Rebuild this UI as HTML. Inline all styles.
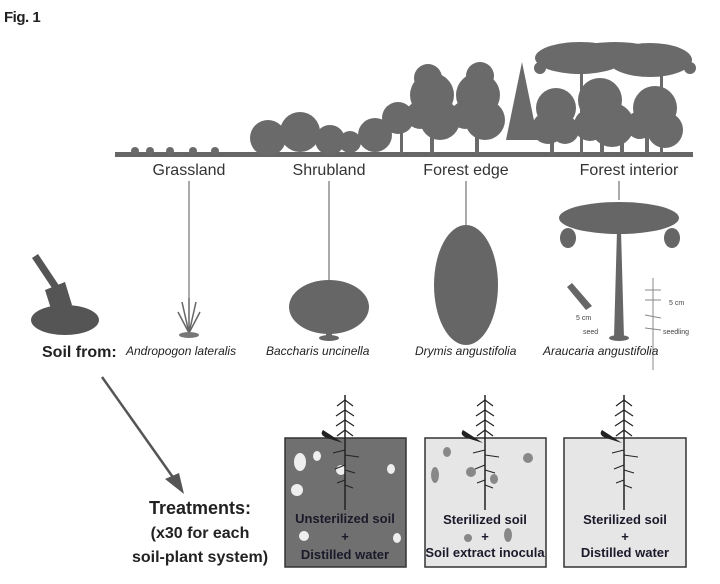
<!DOCTYPE html>
<html><head><meta charset="utf-8"><style>
html,body{margin:0;padding:0;background:#fff;}
svg{display:block}
</style></head><body>
<svg width="720" height="584" viewBox="0 0 720 584" xmlns="http://www.w3.org/2000/svg" font-family="Liberation Sans, sans-serif">
<text x="4" y="22" font-size="15" font-weight="bold" fill="#222" letter-spacing="-0.5">Fig. 1</text>
<!-- ground strip -->
<rect x="115" y="152" width="578" height="5" fill="#666"/>
<g fill="#6a6a6a">
<circle cx="135" cy="151" r="4"/><circle cx="150" cy="151" r="4"/><circle cx="170" cy="151" r="4"/><circle cx="193" cy="151" r="4"/><circle cx="215" cy="151" r="4"/>
<!-- shrubland -->
<circle cx="268" cy="138" r="18"/><circle cx="300" cy="132" r="20"/><circle cx="330" cy="140" r="15"/><circle cx="375" cy="135" r="17"/><circle cx="350" cy="142" r="11"/>
<!-- forest -->
<circle cx="398" cy="118" r="16"/><rect x="400" y="118" width="3" height="36"/>
<circle cx="432" cy="95" r="22"/><circle cx="428" cy="78" r="14"/><circle cx="440" cy="120" r="20"/><circle cx="420" cy="115" r="14"/>
<circle cx="478" cy="95" r="22"/><circle cx="480" cy="76" r="14"/><circle cx="485" cy="120" r="20"/><circle cx="465" cy="115" r="14"/>
<polygon points="522,62 506,140 538,140"/>
<circle cx="556" cy="108" r="20"/><circle cx="548" cy="128" r="16"/><circle cx="565" cy="130" r="14"/>
<circle cx="600" cy="100" r="22"/><circle cx="612" cy="125" r="22"/><circle cx="590" cy="125" r="16"/>
<circle cx="655" cy="108" r="22"/><circle cx="665" cy="130" r="18"/><circle cx="640" cy="125" r="14"/>
<ellipse cx="580" cy="58" rx="45" ry="16"/><ellipse cx="650" cy="60" rx="42" ry="17"/><ellipse cx="615" cy="52" rx="40" ry="10"/>
<circle cx="540" cy="68" r="6"/><circle cx="690" cy="68" r="6"/>
<rect x="580" y="60" width="3" height="95"/><rect x="660" y="60" width="3" height="95"/>
<rect x="430" y="110" width="4" height="44"/><rect x="475" y="110" width="4" height="44"/><rect x="550" y="110" width="4" height="44"/><rect x="600" y="110" width="4" height="44"/><rect x="645" y="110" width="4" height="44"/><rect x="620" y="110" width="4" height="44"/>
</g>
<g font-size="16" fill="#333" text-anchor="middle">
<text x="189" y="175">Grassland</text>
<text x="329" y="175">Shrubland</text>
<text x="466" y="175">Forest edge</text>
<text x="629" y="175">Forest interior</text>
</g>
<g stroke="#555" stroke-width="1">
<line x1="189" y1="181" x2="189" y2="299"/>
<line x1="329" y1="181" x2="329" y2="280"/>
<line x1="466" y1="181" x2="466" y2="226"/>
<line x1="619" y1="181" x2="619" y2="200"/>
</g>
<!-- soil pile + shovel -->
<g fill="#555">
<ellipse cx="65" cy="320" rx="34" ry="15"/>
<polygon points="32,258 38,254 62,290 56,294"/>
<polygon points="45,290 65,282 72,305 52,312"/>
</g>
<!-- grass -->
<g stroke="#666" stroke-width="1.5">
<line x1="189" y1="333" x2="182" y2="302"/><line x1="189" y1="333" x2="189" y2="298"/><line x1="189" y1="333" x2="196" y2="302"/><line x1="189" y1="333" x2="178" y2="312"/><line x1="189" y1="333" x2="200" y2="312"/>
</g>
<ellipse cx="189" cy="335" rx="10" ry="3" fill="#777"/>
<g fill="#666">
<ellipse cx="329" cy="307" rx="40" ry="27"/>
<rect x="326" y="325" width="6" height="12"/><ellipse cx="329" cy="338" rx="10" ry="3"/>
<ellipse cx="466" cy="285" rx="32" ry="60"/>
<rect x="463" y="320" width="6" height="20"/><ellipse cx="466" cy="340" rx="12" ry="3"/>
<ellipse cx="619" cy="218" rx="60" ry="16"/>
<ellipse cx="568" cy="238" rx="8" ry="10"/><ellipse cx="672" cy="238" rx="8" ry="10"/>
<polygon points="617,230 621,230 624,338 614,338"/><ellipse cx="619" cy="338" rx="10" ry="3"/>
<polygon points="567,287 572,283 592,306 586,310"/>
</g>
<g stroke="#888" stroke-width="1" fill="none">
<line x1="653" y1="278" x2="653" y2="370"/>
<line x1="645" y1="290" x2="661" y2="290"/><line x1="645" y1="300" x2="661" y2="300"/><line x1="645" y1="315" x2="661" y2="318"/><line x1="645" y1="328" x2="661" y2="330"/>
</g>
<g font-size="7" fill="#444"><text x="576" y="320">5 cm</text><text x="669" y="305">5 cm</text><text x="583" y="334">seed</text><text x="663" y="334">seedling</text></g>
<text x="42" y="357" font-size="16" font-weight="bold" fill="#222">Soil from:</text>
<g font-size="12" font-style="italic" fill="#222">
<text x="126" y="355">Andropogon lateralis</text>
<text x="266" y="355">Baccharis uncinella</text>
<text x="415" y="355">Drymis angustifolia</text>
<text x="543" y="355">Araucaria angustifolia</text>
</g>
<line x1="102" y1="377" x2="177" y2="483" stroke="#555" stroke-width="2.5"/>
<polygon points="184,494 165,479 179,473" fill="#555"/>
<g font-weight="bold" fill="#222" text-anchor="middle">
<text x="200" y="514" font-size="18">Treatments:</text>
<text x="200" y="538" font-size="16">(x30 for each</text>
<text x="200" y="562" font-size="16">soil-plant system)</text>
</g>
<rect x="285" y="438" width="121" height="129" fill="#707070" stroke="#333" stroke-width="1.5"/>
<rect x="425" y="438" width="121" height="129" fill="#e6e6e6" stroke="#333" stroke-width="1.5"/>
<rect x="564" y="438" width="122" height="129" fill="#e6e6e6" stroke="#333" stroke-width="1.5"/>
<g fill="#eee">
<ellipse cx="300" cy="462" rx="6" ry="9"/><ellipse cx="317" cy="456" rx="4" ry="5"/><ellipse cx="391" cy="469" rx="4" ry="5"/><circle cx="297" cy="490" r="6"/><circle cx="304" cy="536" r="5"/><ellipse cx="397" cy="538" rx="4" ry="5"/><circle cx="341" cy="470" r="5"/>
</g>
<g fill="#888">
<ellipse cx="447" cy="452" rx="4" ry="5"/><ellipse cx="435" cy="475" rx="4" ry="8"/><circle cx="471" cy="472" r="5"/><circle cx="528" cy="458" r="5"/><ellipse cx="494" cy="479" rx="4" ry="5"/><circle cx="468" cy="538" r="4"/><ellipse cx="508" cy="535" rx="4" ry="7"/>
</g>
<g id="sd" stroke="#222" fill="none" stroke-width="1.5">
<line x1="345" y1="395" x2="345" y2="510"/>
<path d="M345 400 l-8 6 M345 400 l8 6 M345 410 l-9 6 M345 410 l9 6 M345 420 l-9 6 M345 420 l9 6 M345 430 l-8 6 M345 430 l8 6" stroke-width="1.2"/>
<path d="M345 450 l-12 3 M345 455 l14 2 M345 465 l-10 4 M345 470 l10 3 M345 480 l-8 3 M345 485 l8 3" stroke-width="1"/>
</g>
<path d="M323 430 q-4 5 4 8 l16 5 z" fill="#222"/>
<use href="#sd" x="140"/><path d="M463 430 q-4 5 4 8 l16 5 z" fill="#222"/>
<use href="#sd" x="279"/><path d="M602 430 q-4 5 4 8 l16 5 z" fill="#222"/>
<g font-weight="bold" font-size="13" fill="#1a1a2a" text-anchor="middle">
<text x="345" y="523">Unsterilized soil</text><text x="345" y="541">+</text><text x="345" y="559">Distilled water</text>
<text x="485" y="524">Sterilized soil</text><text x="485" y="541">+</text><text x="485" y="557">Soil extract inocula</text>
<text x="625" y="524">Sterilized soil</text><text x="625" y="541">+</text><text x="625" y="557">Distilled water</text>
</g>
</svg>
</body></html>
